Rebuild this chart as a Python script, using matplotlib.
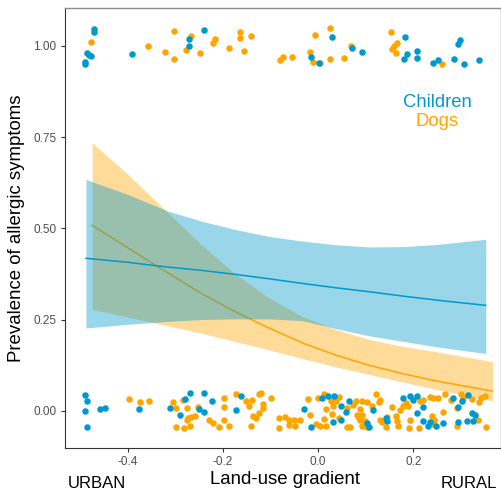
"""Allergic symptom prevalence along the land-use gradient (children vs dogs)."""

import matplotlib

matplotlib.use("Agg")
import matplotlib.pyplot as plt

plt.rcParams["font.family"] = ["Liberation Sans", "DejaVu Sans"]

CHILD_COLOR = "#0099CC"
DOG_COLOR = "#FFA500"

# fitted curves with 95% bands
child_x = [-0.488, -0.40, -0.317, -0.246, -0.175, -0.104, -0.033, 0.038, 0.109, 0.18, 0.251, 0.352]
child_fit = [0.418, 0.407, 0.394, 0.385, 0.374, 0.362, 0.349, 0.337, 0.326, 0.314, 0.303, 0.289]
child_lo = [0.227, 0.237, 0.245, 0.250, 0.252, 0.252, 0.247, 0.225, 0.205, 0.190, 0.175, 0.157]
child_hi = [0.634, 0.593, 0.548, 0.520, 0.497, 0.478, 0.465, 0.455, 0.449, 0.450, 0.456, 0.470]

dog_x = [-0.475, -0.40, -0.331, -0.246, -0.175, -0.104, -0.033, 0.038, 0.109, 0.18, 0.251, 0.366]
dog_fit = [0.508, 0.447, 0.390, 0.322, 0.272, 0.227, 0.186, 0.152, 0.124, 0.101, 0.081, 0.054]
dog_lo = [0.278, 0.257, 0.237, 0.213, 0.190, 0.167, 0.143, 0.120, 0.099, 0.078, 0.058, 0.027]
dog_hi = [0.735, 0.648, 0.562, 0.456, 0.376, 0.310, 0.258, 0.222, 0.195, 0.176, 0.161, 0.135]

# jittered observations (symptoms yes = ~1, no = ~0)
child_pts_x = [
    -0.472, -0.472, -0.486, -0.482, -0.478, -0.489, -0.490, -0.391, -0.272, -0.272,
    -0.241, 0.029, -0.015, 0.001, 0.072, 0.093, 0.182, 0.186, 0.180, 0.208,
    0.207, 0.242, 0.252, 0.285, 0.293, 0.298, 0.307, 0.338,
    -0.490, -0.485, -0.489, -0.486, -0.458, -0.447, -0.377, -0.312, -0.291, -0.279,
    -0.270, -0.240, -0.224, -0.251, -0.241, -0.163, -0.173, -0.029, 0.008, 0.021,
    0.033, 0.064, 0.048, 0.047, 0.030, -0.015, 0.116, 0.102, 0.107, 0.142,
    0.144, 0.179, 0.192, 0.200, 0.207, 0.221, 0.207, 0.221, 0.230, 0.235,
    0.248, 0.262, 0.284, 0.303, 0.315, 0.293, 0.312, 0.324, 0.329, 0.326,
    0.293, 0.058,
]
child_pts_y = [
    1.046, 1.038, 0.982, 0.976, 0.973, 0.956, 0.950, 0.977, 1.018, 1.000,
    1.045, 1.025, 0.969, 0.954, 0.993, 0.984, 1.025, 0.977, 0.964, 0.985,
    0.968, 0.953, 0.962, 0.963, 1.004, 1.017, 0.951, 0.961,
    0.043, 0.027, -0.001, -0.044, 0.005, 0.007, 0.006, 0.008, -0.012, 0.032,
    0.048, 0.050, 0.028, 0.005, -0.004, 0.041, 0.001, 0.005, 0.034, 0.040,
    0.041, 0.028, 0.012, -0.026, -0.030, -0.045, 0.001, -0.034, -0.045, -0.021,
    -0.028, 0.034, 0.041, 0.030, 0.041, 0.010, -0.006, -0.028, -0.043, -0.032,
    -0.043, -0.034, 0.034, 0.028, 0.043, -0.032, -0.028, -0.006, -0.012, -0.028,
    0.010, -0.003,
]
dog_pts_x = [
    -0.478, -0.357, -0.321, -0.302, -0.302, -0.277, -0.267, -0.249, -0.221, -0.216,
    -0.187, -0.165, -0.165, -0.156, -0.142, -0.081, -0.075, -0.055, -0.017, -0.012,
    -0.006, 0.004, 0.025, 0.025, 0.054, 0.068, 0.152, 0.154, 0.160, 0.165,
    0.164, 0.259,
    -0.397, -0.375, -0.356, -0.306, -0.298, -0.284, -0.276, -0.252, -0.273, -0.276,
    -0.268, -0.259, -0.230, -0.221, -0.298, -0.282, -0.270,
    -0.197, -0.197, -0.173, -0.152, -0.139, -0.146, -0.124, -0.120, -0.117, -0.115,
    -0.100, -0.138, -0.131, -0.124, -0.209, -0.197, -0.187, -0.142, -0.082, -0.069,
    -0.062, -0.051, -0.038, -0.083, -0.062, -0.048, -0.022, -0.018, -0.001, 0.013,
    0.027, 0.037, 0.044, 0.016, 0.032, 0.060, 0.073, 0.080, 0.082, -0.005,
    0.004, 0.013, 0.016, 0.029, 0.043, 0.060, 0.067, 0.085,
    0.121, 0.091, 0.102, 0.112, 0.128, 0.130, 0.088, 0.091, 0.088, 0.098,
    0.091, 0.102, 0.129, 0.135, 0.144, 0.142, 0.156, 0.164, 0.165, 0.168,
    0.172, 0.179, 0.185, 0.189, 0.192, 0.191, 0.212, 0.214, 0.220, 0.234,
    0.242, 0.252, 0.240, 0.244, 0.242, 0.266, 0.263, 0.280, 0.291, 0.301,
    0.305, 0.324, 0.338, 0.343, 0.350, 0.352, 0.291, 0.336,
]
dog_pts_y = [
    1.011, 1.000, 0.984, 1.040, 0.965, 0.989, 1.027, 0.982, 1.009, 1.020,
    0.995, 1.038, 1.023, 0.986, 1.027, 0.961, 0.971, 0.971, 0.984, 0.957,
    1.029, 0.953, 1.048, 0.963, 0.966, 1.000, 1.037, 0.991, 1.000, 1.007,
    0.980, 0.950,
    0.033, 0.025, 0.028, 0.023, 0.008, 0.030, 0.008, 0.010, -0.021, -0.026,
    -0.017, -0.014, -0.025, -0.034, -0.044, -0.047, -0.041,
    0.034, 0.010, 0.047, 0.028, 0.030, 0.012, 0.045, 0.049, 0.019, 0.007,
    0.036, -0.014, -0.019, -0.006, -0.045, -0.026, -0.043, -0.043, -0.021, -0.017,
    -0.025, -0.025, -0.025, -0.048, -0.039, -0.043, 0.032, -0.012, 0.036, 0.045,
    0.028, 0.027, 0.038, 0.005, 0.012, 0.007, 0.017, 0.027, -0.012, -0.036,
    -0.043, -0.023, -0.043, -0.010, -0.019, -0.045, -0.045, -0.021,
    0.047, 0.028, 0.023, 0.012, 0.023, 0.030, 0.005, -0.012, -0.026, -0.028,
    -0.041, -0.045, -0.025, -0.030, -0.017, -0.045, 0.010, -0.015, -0.028, -0.041,
    0.001, 0.014, 0.021, 0.012, -0.025, -0.048, -0.048, 0.028, 0.030, 0.038,
    0.034, 0.034, -0.015, -0.025, -0.037, 0.045, -0.004, 0.030, 0.008, 0.045,
    0.034, 0.032, 0.025, 0.034, 0.041, -0.045, -0.043, -0.025,
]

y_ticks = [0.0, 0.25, 0.5, 0.75, 1.0]
x_ticks = [-0.4, -0.2, 0.0, 0.2]

fig = plt.figure(figsize=(5.02, 4.92), dpi=100)
ax = fig.add_axes([65 / 502, 1 - 448 / 492, 436 / 502, 440 / 492])

# dogs first so the children ribbon tints the overlap green
ax.fill_between(dog_x, dog_lo, dog_hi, color=DOG_COLOR, alpha=0.4, lw=0, zorder=1)
ax.plot(dog_x, dog_fit, color=DOG_COLOR, lw=1.1, zorder=2)
ax.fill_between(child_x, child_lo, child_hi, color=CHILD_COLOR, alpha=0.4, lw=0, zorder=3)
ax.plot(child_x, child_fit, color=CHILD_COLOR, lw=1.1, zorder=4)

ax.scatter(dog_pts_x, dog_pts_y, s=22, color=DOG_COLOR, lw=0, zorder=5)
ax.scatter(child_pts_x, child_pts_y, s=22, color=CHILD_COLOR, lw=0, zorder=5)

ax.set_xlim(-0.532, 0.384)
ax.set_ylim(-0.102, 1.104)
ax.set_xticks(x_ticks)
ax.set_xticklabels([f"{v:.1f}" for v in x_ticks])
ax.set_yticks(y_ticks)
ax.set_yticklabels([f"{v:.2f}" for v in y_ticks])
ax.tick_params(colors="#333333", labelcolor="#4D4D4D", labelsize=8.5, length=3, width=0.8, pad=3)

for side in ("left", "bottom"):
    ax.spines[side].set_color("#333333")
    ax.spines[side].set_linewidth(0.8)
for side in ("top", "right"):
    ax.spines[side].set_color("#8C8C8C")
    ax.spines[side].set_linewidth(1.0)

ax.set_ylabel("Prevalence of allergic symptoms", fontsize=13.4, labelpad=6)

ax.text(0.853, 0.785, "Children", transform=ax.transAxes, color=CHILD_COLOR,
        fontsize=13.3, ha="center", va="center")
ax.text(0.853, 0.742, "Dogs", transform=ax.transAxes, color=DOG_COLOR,
        fontsize=13.3, ha="center", va="center")

fig.text(285 / 502, 1 - 480 / 492, "Land-use gradient", fontsize=13.4, ha="center", va="center")
fig.text(96.5 / 502, 1 - 483 / 492, "URBAN", fontsize=12, ha="center", va="center")
fig.text(469 / 502, 1 - 483 / 492, "RURAL", fontsize=12, ha="center", va="center")

fig.savefig("out.png", dpi=100)
